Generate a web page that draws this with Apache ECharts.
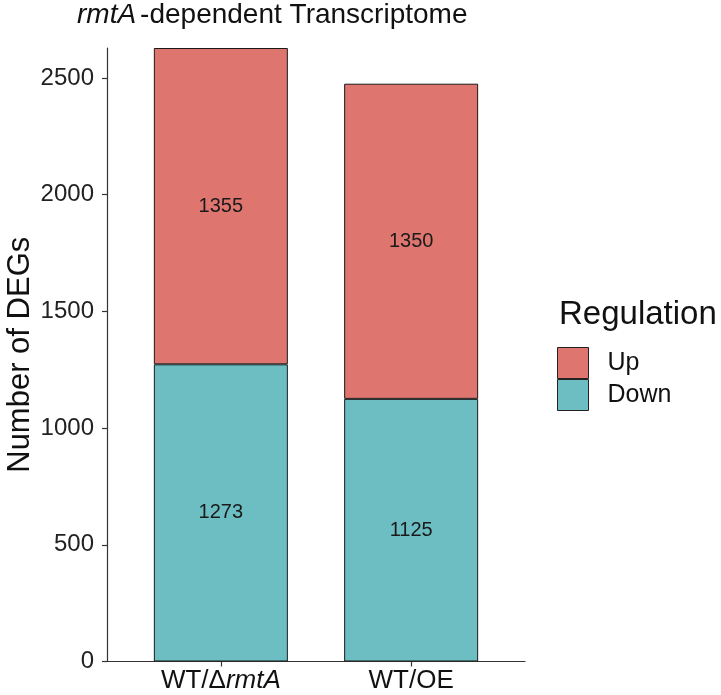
<!DOCTYPE html>
<html>
<head>
<meta charset="utf-8">
<script src="https://cdn.jsdelivr.net/npm/echarts@6/dist/echarts.min.js"></script>
<style>html,body{margin:0;padding:0;background:#fff;}#c{width:721px;height:695px;}</style>
</head>
<body>
<div id="c"></div>
<script>
const categories = ['WT/\u0394rmtA', 'WT/OE'];
const downValues = [1273, 1125];
const upValues = [1355, 1350];
const yTicks = [0, 500, 1000, 1500, 2000, 2500];
const yMax = 2628;

const FONT = '"Liberation Sans", Arial, sans-serif';
const chart = echarts.init(document.getElementById('c'));
chart.setOption({
  backgroundColor: '#fff',
  animation: false,
  textStyle: { fontFamily: FONT },
  title: [
    {
      text: '{i|rmtA}{n|-dependent Transcriptome}',
      left: 77, top: 1, padding: 0,
      textStyle: {
        rich: {
          i: { fontSize: 28, fontStyle: 'italic', fontWeight: 'normal', color: '#111', fontFamily: FONT, padding: [0, 4, 0, 0] },
          n: { fontSize: 28, fontWeight: 'normal', color: '#111', fontFamily: FONT }
        }
      }
    },
    {
      text: 'Regulation',
      left: 559, top: 298, padding: 0,
      textStyle: { fontSize: 33, fontWeight: 'normal', color: '#111', fontFamily: FONT }
    }
  ],
  legend: {
    data: ['Up', 'Down'],
    orient: 'vertical',
    left: 557, top: 347, padding: 0,
    itemWidth: 31, itemHeight: 31, itemGap: 0,
    icon: 'rect',
    itemStyle: { borderColor: '#222', borderWidth: 1 },
    textStyle: { fontSize: 25, color: '#111', padding: [0, 0, 0, 14], fontFamily: FONT }
  },
  grid: [
    { left: 107, width: 418, top: 48, height: 613.5, containLabel: false, outerBoundsMode: 'none' },
    { left: 125.7, width: 380.6, top: 48, height: 613.5, containLabel: false, outerBoundsMode: 'none' }
  ],
  xAxis: [
    {
      type: 'value', gridIndex: 0, min: 0, max: 1,
      axisLine: { show: true, lineStyle: { color: '#333', width: 1.2 } },
      axisTick: { show: false }, axisLabel: { show: false }, splitLine: { show: false }
    },
    {
      type: 'category', gridIndex: 1, data: categories, boundaryGap: true,
      axisLine: { show: false },
      axisTick: { show: true, alignWithLabel: true, length: 5, lineStyle: { color: '#333', width: 1.2 } },
      axisLabel: {
        margin: 6,
        formatter: function (v) {
          if (v.indexOf('\u0394') >= 0) return '{n|WT/\u0394}{i|rmtA}';
          return '{n|' + v + '}';
        },
        rich: {
          n: { fontSize: 26, color: '#111', fontFamily: FONT },
          i: { fontSize: 26, color: '#111', fontStyle: 'italic', fontFamily: FONT }
        }
      },
      splitLine: { show: false }
    }
  ],
  yAxis: [
    {
      type: 'value', gridIndex: 0, min: 0, max: yMax,
      name: 'Number of DEGs', nameLocation: 'middle', nameGap: 71, nameRotate: 90,
      nameMoveOverlap: false,
      nameTextStyle: { fontSize: 31, color: '#111', fontFamily: FONT },
      axisLine: { show: true, lineStyle: { color: '#333', width: 1.2 } },
      axisTick: { show: true, length: 5, customValues: yTicks, lineStyle: { color: '#333', width: 1.2 } },
      axisLabel: {
        customValues: yTicks, fontSize: 24, color: '#222', margin: 13, fontFamily: FONT,
        formatter: function (v) { return String(v); }
      },
      splitLine: { show: false }
    },
    {
      type: 'value', gridIndex: 1, min: 0, max: yMax, show: false,
      splitLine: { show: false }
    }
  ],
  series: [
    {
      name: 'Down', type: 'bar', stack: 'deg', xAxisIndex: 1, yAxisIndex: 1,
      data: downValues, barWidth: 134,
      itemStyle: { color: '#6CBEC3', borderColor: '#1a1a1a', borderWidth: 1 },
      label: { show: true, position: 'inside', fontSize: 20, color: '#1a1a1a', fontFamily: FONT }
    },
    {
      name: 'Up', type: 'bar', stack: 'deg', xAxisIndex: 1, yAxisIndex: 1,
      data: upValues, barWidth: 134,
      itemStyle: { color: '#DE756F', borderColor: '#1a1a1a', borderWidth: 1 },
      label: { show: true, position: 'inside', fontSize: 20, color: '#1a1a1a', fontFamily: FONT }
    }
  ]
});
</script>
</body>
</html>
